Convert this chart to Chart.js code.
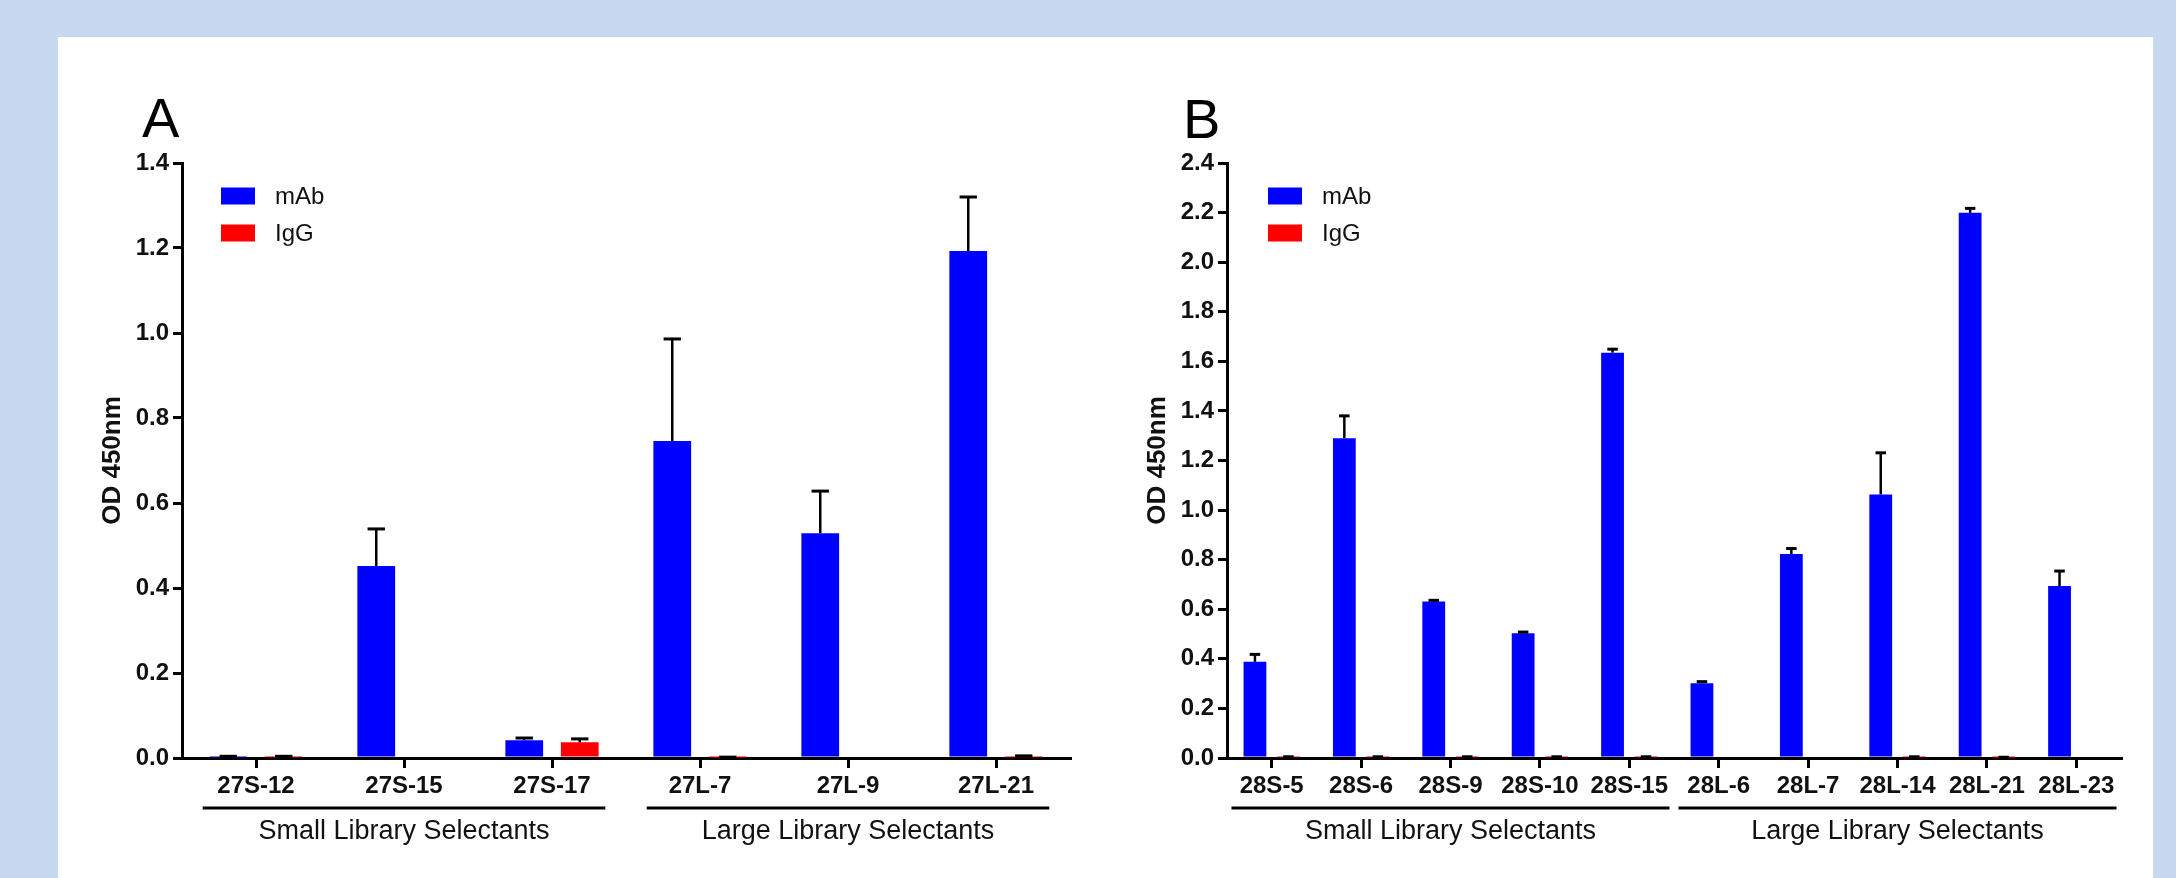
<!DOCTYPE html>
<html>
<head>
<meta charset="utf-8">
<script src="https://cdn.jsdelivr.net/npm/chart.js@4.4.1/dist/chart.umd.min.js"></script>
<style>
  html, body { margin: 0; padding: 0; }
  body {
    width: 2176px; height: 878px; overflow: hidden; position: relative;
    background: #c6d9f0;
    font-family: "Liberation Sans", Arial, sans-serif;
  }
  .panel { position: absolute; left: 58px; top: 37px; width: 2095px; height: 841px; background: #fff; }
  .letra { position: absolute; font-size: 56px; line-height: 1; color: #000; }
  canvas { position: absolute; }
</style>
</head>
<body>
<div class="panel"></div>
<div class="letra" style="left:142px; top:90px;">A</div>
<div class="letra" style="left:1183px; top:91px;">B</div>
<canvas id="graficoA" width="1020" height="818" style="left:80px; top:60px;"></canvas>
<canvas id="graficoB" width="1010" height="818" style="left:1130px; top:60px;"></canvas>

<script>
// Datos (OD 450nm, media y error hacia arriba)
const etiquetasA = ['27S-12', '27S-15', '27S-17', '27L-7', '27L-9', '27L-21'];
const mAbA = [0.002, 0.452, 0.042, 0.746, 0.529, 1.193];
const mAbErrA = [0.002, 0.087, 0.005, 0.240, 0.099, 0.127];
const igGA = [0.002, 0, 0.037, 0.001, 0, 0.002];
const igGErrA = [0.002, 0, 0.008, 0.001, 0, 0.003];

const etiquetasB = ['28S-5', '28S-6', '28S-9', '28S-10', '28S-15', '28L-6', '28L-7', '28L-14', '28L-21', '28L-23'];
const mAbB = [0.388, 1.290, 0.631, 0.503, 1.635, 0.302, 0.823, 1.063, 2.199, 0.694];
const mAbErrB = [0.030, 0.090, 0.005, 0.005, 0.014, 0.006, 0.022, 0.168, 0.018, 0.060];
const igGB = [0.003, 0.003, 0.003, 0.003, 0.003, 0, 0, 0.003, 0.002, 0];
const igGErrB = [0.002, 0.002, 0.002, 0.002, 0.002, 0, 0, 0.002, 0.001, 0];

// Grupos bajo el eje x
const nombresGrupos = ['Small Library Selectants', 'Large Library Selectants'];
const inicioGruposA = [0, 3];
const finGruposA = [2, 5];
const inicioGruposB = [0, 5];
const finGruposB = [4, 9];

const ticksA = [0, 0.2, 0.4, 0.6, 0.8, 1.0, 1.2, 1.4];
const ticksB = [0, 0.2, 0.4, 0.6, 0.8, 1.0, 1.2, 1.4, 1.6, 1.8, 2.0, 2.2, 2.4];

const FUENTE = '"Liberation Sans", Arial, sans-serif';

// Barras de error (solo hacia arriba, estilo Prism)
const barrasError = {
  id: 'barrasError',
  afterDatasetsDraw(chart) {
    const ctx = chart.ctx;
    const y = chart.scales.y;
    chart.data.datasets.forEach((ds, i) => {
      const meta = chart.getDatasetMeta(i);
      meta.data.forEach((bar, j) => {
        const v = ds.data[j];
        const e = ds.errores[j];
        if (!v && !e) return;
        const yBar = y.getPixelForValue(v);
        const yTop = y.getPixelForValue(v + e);
        const w = bar.width * 0.46;
        ctx.save();
        ctx.strokeStyle = '#000';
        ctx.lineWidth = 2.5;
        ctx.beginPath();
        ctx.moveTo(bar.x, yBar);
        ctx.lineTo(bar.x, yTop);
        ctx.stroke();
        ctx.lineWidth = 3;
        ctx.beginPath();
        ctx.moveTo(bar.x - w / 2, yTop);
        ctx.lineTo(bar.x + w / 2, yTop);
        ctx.stroke();
        ctx.restore();
      });
    });
  }
};

// Leyenda dentro del area y grupos debajo de las etiquetas
const extras = {
  id: 'extras',
  afterDraw(chart, args, opts) {
    const ctx = chart.ctx;
    const area = chart.chartArea;
    const x = chart.scales.x;
    ctx.save();

    chart.data.datasets.forEach((ds, i) => {
      const cy = area.top + 33 + i * 37;
      ctx.fillStyle = ds.backgroundColor;
      ctx.fillRect(opts.leyendaX, cy - 8.5, 34, 17);
      ctx.fillStyle = '#111';
      ctx.font = '24px ' + FUENTE;
      ctx.textAlign = 'left';
      ctx.textBaseline = 'middle';
      ctx.fillText(ds.label, opts.leyendaX + 54, cy + 1);
    });

    const paso = x.getPixelForValue(1) - x.getPixelForValue(0);
    opts.inicios.forEach((ini, g) => {
      const x1 = x.getPixelForValue(ini) - paso * opts.margen;
      const x2 = x.getPixelForValue(opts.fines[g]) + paso * opts.margen;
      const yLinea = area.bottom + 50;
      ctx.strokeStyle = '#000';
      ctx.lineWidth = 3;
      ctx.beginPath();
      ctx.moveTo(x1, yLinea);
      ctx.lineTo(x2, yLinea);
      ctx.stroke();
      ctx.fillStyle = '#111';
      ctx.font = '27px ' + FUENTE;
      ctx.textAlign = 'center';
      ctx.textBaseline = 'middle';
      ctx.fillText(nombresGrupos[g], (x1 + x2) / 2, area.bottom + 74);
    });
    ctx.restore();
  }
};

function crearGrafico(id, etiquetas, mAb, mAbErr, igG, igGErr, maximo, valoresTicks, cfg) {
  const ctx = document.getElementById(id).getContext('2d');
  return new Chart(ctx, {
    type: 'bar',
    data: {
      labels: etiquetas,
      datasets: [
        { label: 'mAb', data: mAb, errores: mAbErr, backgroundColor: '#0000ff' },
        { label: 'IgG', data: igG, errores: igGErr, backgroundColor: '#ff0000' }
      ]
    },
    options: {
      responsive: false,
      animation: false,
      categoryPercentage: 0.75,
      barPercentage: 0.68,
      layout: { padding: { top: 103, right: cfg.derecha, bottom: 0, left: 0 } },
      plugins: {
        legend: { display: false },
        tooltip: { enabled: false },
        extras: { inicios: cfg.inicios, fines: cfg.fines, margen: cfg.margen, leyendaX: cfg.leyendaX }
      },
      scales: {
        x: {
          z: 1,
          afterFit: (s) => { s.height = 120; },
          border: { color: '#000', width: 3 },
          grid: { offset: false, drawOnChartArea: false, color: '#000', lineWidth: 3, tickLength: 10, tickWidth: 3, tickColor: '#000' },
          ticks: { autoSkip: false, maxRotation: 0, minRotation: 0, padding: 4, color: '#111', font: { family: FUENTE, size: 24, weight: 'bold' } }
        },
        y: {
          z: 1,
          min: 0,
          max: maximo,
          afterFit: (s) => { s.width = cfg.anchoY; },
          afterBuildTicks: (s) => { s.ticks = valoresTicks.map(v => ({ value: v })); },
          border: { color: '#000', width: 3 },
          grid: { drawOnChartArea: false, color: '#000', lineWidth: 3, tickLength: 9, tickWidth: 3, tickColor: '#000' },
          ticks: {
            padding: 4,
            color: '#111',
            font: { family: FUENTE, size: 24, weight: 'bold' },
            callback: (v) => Number(v).toFixed(1)
          },
          title: {
            display: true,
            text: 'OD 450nm',
            color: '#111',
            padding: { top: cfg.padTitulo, bottom: 0 },
            font: { family: FUENTE, size: 26, weight: 'bold' }
          }
        }
      }
    },
    plugins: [barrasError, extras]
  });
}

crearGrafico('graficoA', etiquetasA, mAbA, mAbErrA, igGA, igGErrA, 1.4, ticksA,
  { derecha: 30, anchoY: 102, padTitulo: 17, margen: 0.36, leyendaX: 141, inicios: inicioGruposA, fines: finGruposA });
crearGrafico('graficoB', etiquetasB, mAbB, mAbErrB, igGB, igGErrB, 2.4, ticksB,
  { derecha: 19, anchoY: 97, padTitulo: 12, margen: 0.45, leyendaX: 138, inicios: inicioGruposB, fines: finGruposB });
</script>
</body>
</html>
